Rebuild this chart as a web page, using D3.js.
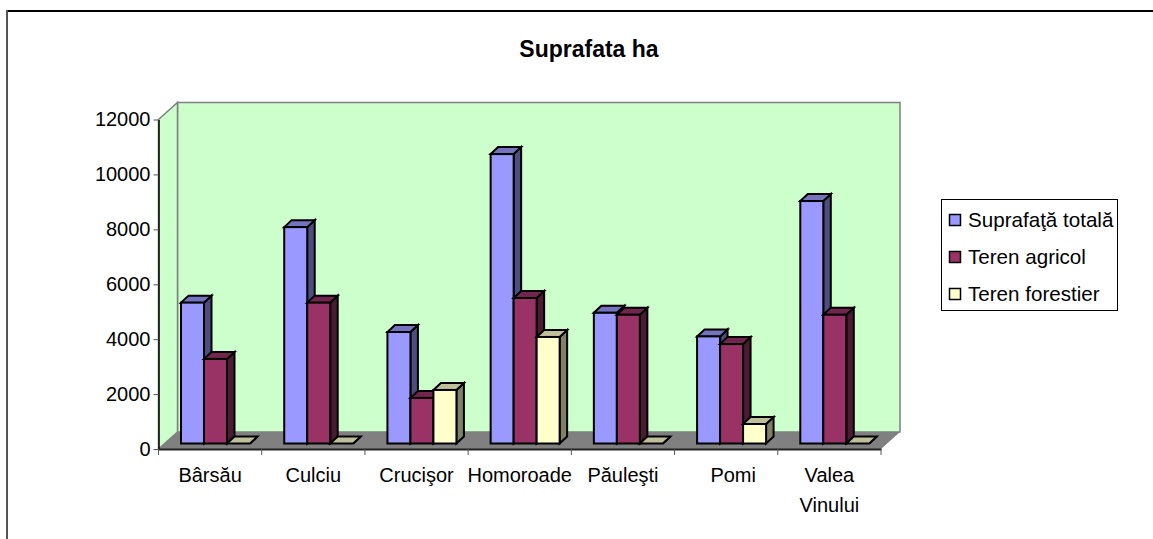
<!DOCTYPE html>
<html>
<head>
<meta charset="utf-8">
<script src="https://cdn.jsdelivr.net/npm/d3@7"></script>
<style>
html, body { margin: 0; padding: 0; background: #fff; }
text { font-family: "Liberation Sans", Arial, sans-serif; fill: #000; }
</style>
</head>
<body>
<div id="chart"></div>
<script>
const categories = ["Bârsău", "Culciu", "Crucişor", "Homoroade", "Păuleşti", "Pomi", "Valea Vinului"];
const seriesNames = ["Suprafaţă totală", "Teren agricol", "Teren forestier"];
const suprafataTotala = [5130, 7880, 4060, 10540, 4760, 3900, 8830];
const terenAgricol = [3080, 5130, 1660, 5300, 4690, 3620, 4690];
const terenForestier = [0, 0, 1950, 3880, 0, 710, 0];
const yTicks = [0, 2000, 4000, 6000, 8000, 10000, 12000];

const seriesColors = [
    {front: "#9999ff", top: "#7373bf", side: "#4d4d80"},
    {front: "#993366", top: "#73264d", side: "#4d1a33"},
    {front: "#ffffcc", top: "#bfbf99", side: "#808066"},
];

const width = 1153, height = 539;
const svg = d3.select("#chart").append("svg")
    .attr("width", width)
    .attr("height", height)
    .style("display", "block");

const x0 = 158.5, x1 = 881, yBase = 449, yTop = 119.5;
const wallDx = 19, wallDy = -17;
const barDx = 7.5, barDy = -7;
const barInsetX = 22.5, barInsetY = -5.5, barW = 23;

const x = d3.scaleBand().domain(categories).range([x0, x1]);
const y = d3.scaleLinear().domain([0, 12000]).range([yBase, yTop]);

const poly = (pts) => pts.map((p) => p.join(",")).join(" ");

// chart frame
svg.append("line").attr("x1", 6).attr("x2", 1153).attr("y1", 11).attr("y2", 11)
    .attr("stroke", "#000").attr("stroke-width", 2);
svg.append("line").attr("x1", 7).attr("x2", 7).attr("y1", 10).attr("y2", 539)
    .attr("stroke", "#555").attr("stroke-width", 2);

svg.append("text")
    .attr("x", 589).attr("y", 57)
    .attr("text-anchor", "middle")
    .style("font-size", "23px")
    .style("font-weight", "bold")
    .text("Suprafata ha");

// walls and floor
const walls = svg.append("g").attr("stroke", "#808080").attr("stroke-width", 1.5);
walls.append("polygon")
    .attr("fill", "#ccffcc")
    .attr("points", poly([[x0 + wallDx, yTop + wallDy], [x1 + wallDx, yTop + wallDy], [x1 + wallDx, yBase + wallDy], [x0 + wallDx, yBase + wallDy]]));
walls.append("polygon")
    .attr("fill", "#ccffcc")
    .attr("points", poly([[x0, yTop], [x0 + wallDx, yTop + wallDy], [x0 + wallDx, yBase + wallDy], [x0, yBase]]));
svg.append("polygon")
    .attr("fill", "#808080")
    .attr("points", poly([[x0, yBase], [x0 + wallDx, yBase + wallDy], [x1 + wallDx, yBase + wallDy], [x1, yBase]]));

// bars
const allSeries = [suprafataTotala, terenAgricol, terenForestier];
const barData = [];
categories.forEach((c, i) => {
    allSeries.forEach((vals, s) => {
        barData.push({category: c, series: s, value: vals[i]});
    });
});

const bars = svg.append("g")
    .selectAll("g")
    .data(barData)
    .join("g")
    .attr("stroke", "#000")
    .attr("stroke-width", 2)
    .attr("stroke-linejoin", "miter");

const bx = (d) => x(d.category) + barInsetX + d.series * barW;
const byTop = (d) => y(d.value) + barInsetY;
const byBot = yBase + barInsetY;

bars.append("polygon")
    .attr("fill", (d) => seriesColors[d.series].side)
    .attr("points", (d) => poly([[bx(d) + barW, byTop(d)], [bx(d) + barW + barDx, byTop(d) + barDy], [bx(d) + barW + barDx, byBot + barDy], [bx(d) + barW, byBot]]));
bars.append("polygon")
    .attr("fill", (d) => seriesColors[d.series].top)
    .attr("points", (d) => poly([[bx(d), byTop(d)], [bx(d) + barDx, byTop(d) + barDy], [bx(d) + barW + barDx, byTop(d) + barDy], [bx(d) + barW, byTop(d)]]));
bars.filter((d) => d.value > 0).append("rect")
    .attr("fill", (d) => seriesColors[d.series].front)
    .attr("x", bx)
    .attr("y", byTop)
    .attr("width", barW)
    .attr("height", (d) => byBot - byTop(d));

// y axis
const yAxis = svg.append("g")
    .attr("transform", `translate(${x0},0)`)
    .call(d3.axisLeft(y).tickValues(yTicks).tickSize(5).tickSizeOuter(0).tickFormat(d3.format("d")));
yAxis.select(".domain").attr("stroke", "#000").attr("stroke-width", 1.5);
yAxis.selectAll("line").attr("stroke", "#555");
yAxis.selectAll("text")
    .attr("x", -8)
    .style("font-size", "20px");

// x axis
const xAxis = svg.append("g")
    .attr("transform", `translate(0,${yBase})`)
    .call(d3.axisBottom(x).tickSize(0).tickFormat(""));
xAxis.select(".domain").attr("stroke", "#222").attr("stroke-width", 2);

svg.append("g")
    .selectAll("line")
    .data(d3.range(categories.length + 1))
    .join("line")
    .attr("x1", (i) => x0 + i * x.step())
    .attr("x2", (i) => x0 + i * x.step())
    .attr("y1", yBase)
    .attr("y2", yBase + 6)
    .attr("stroke", "#555");

const labels = svg.append("g")
    .selectAll("text")
    .data(categories)
    .join("text")
    .attr("text-anchor", "middle")
    .attr("y", 482)
    .style("font-size", "20px");
labels.each(function (d) {
    const words = d === "Valea Vinului" ? d.split(" ") : [d];
    d3.select(this).selectAll("tspan")
        .data(words)
        .join("tspan")
        // Pomi sits a little right of its band centre in the original
        .attr("x", x(d) + x.bandwidth() / 2 + (d === "Pomi" ? 7 : 0))
        .attr("dy", (w, i) => (i ? 30 : 0))
        .text((w) => w);
});

// legend
const legend = svg.append("g");
legend.append("rect")
    .attr("x", 941.5).attr("y", 199.5)
    .attr("width", 176).attr("height", 111)
    .attr("fill", "#fff")
    .attr("stroke", "#000");
const legendY = d3.scalePoint().domain(seriesNames).range([220, 294]);
const item = legend.selectAll("g")
    .data(seriesNames)
    .join("g")
    .attr("transform", (d) => `translate(0,${legendY(d)})`);
item.append("rect")
    .attr("x", 949.5).attr("y", -5.5)
    .attr("width", 11).attr("height", 11)
    .attr("fill", (d, i) => seriesColors[i].front)
    .attr("stroke", "#000")
    .attr("stroke-width", 1.5);
item.append("text")
    .attr("x", 968).attr("y", 7)
    .style("font-size", "20.6px")
    .text((d) => d);
</script>
</body>
</html>
